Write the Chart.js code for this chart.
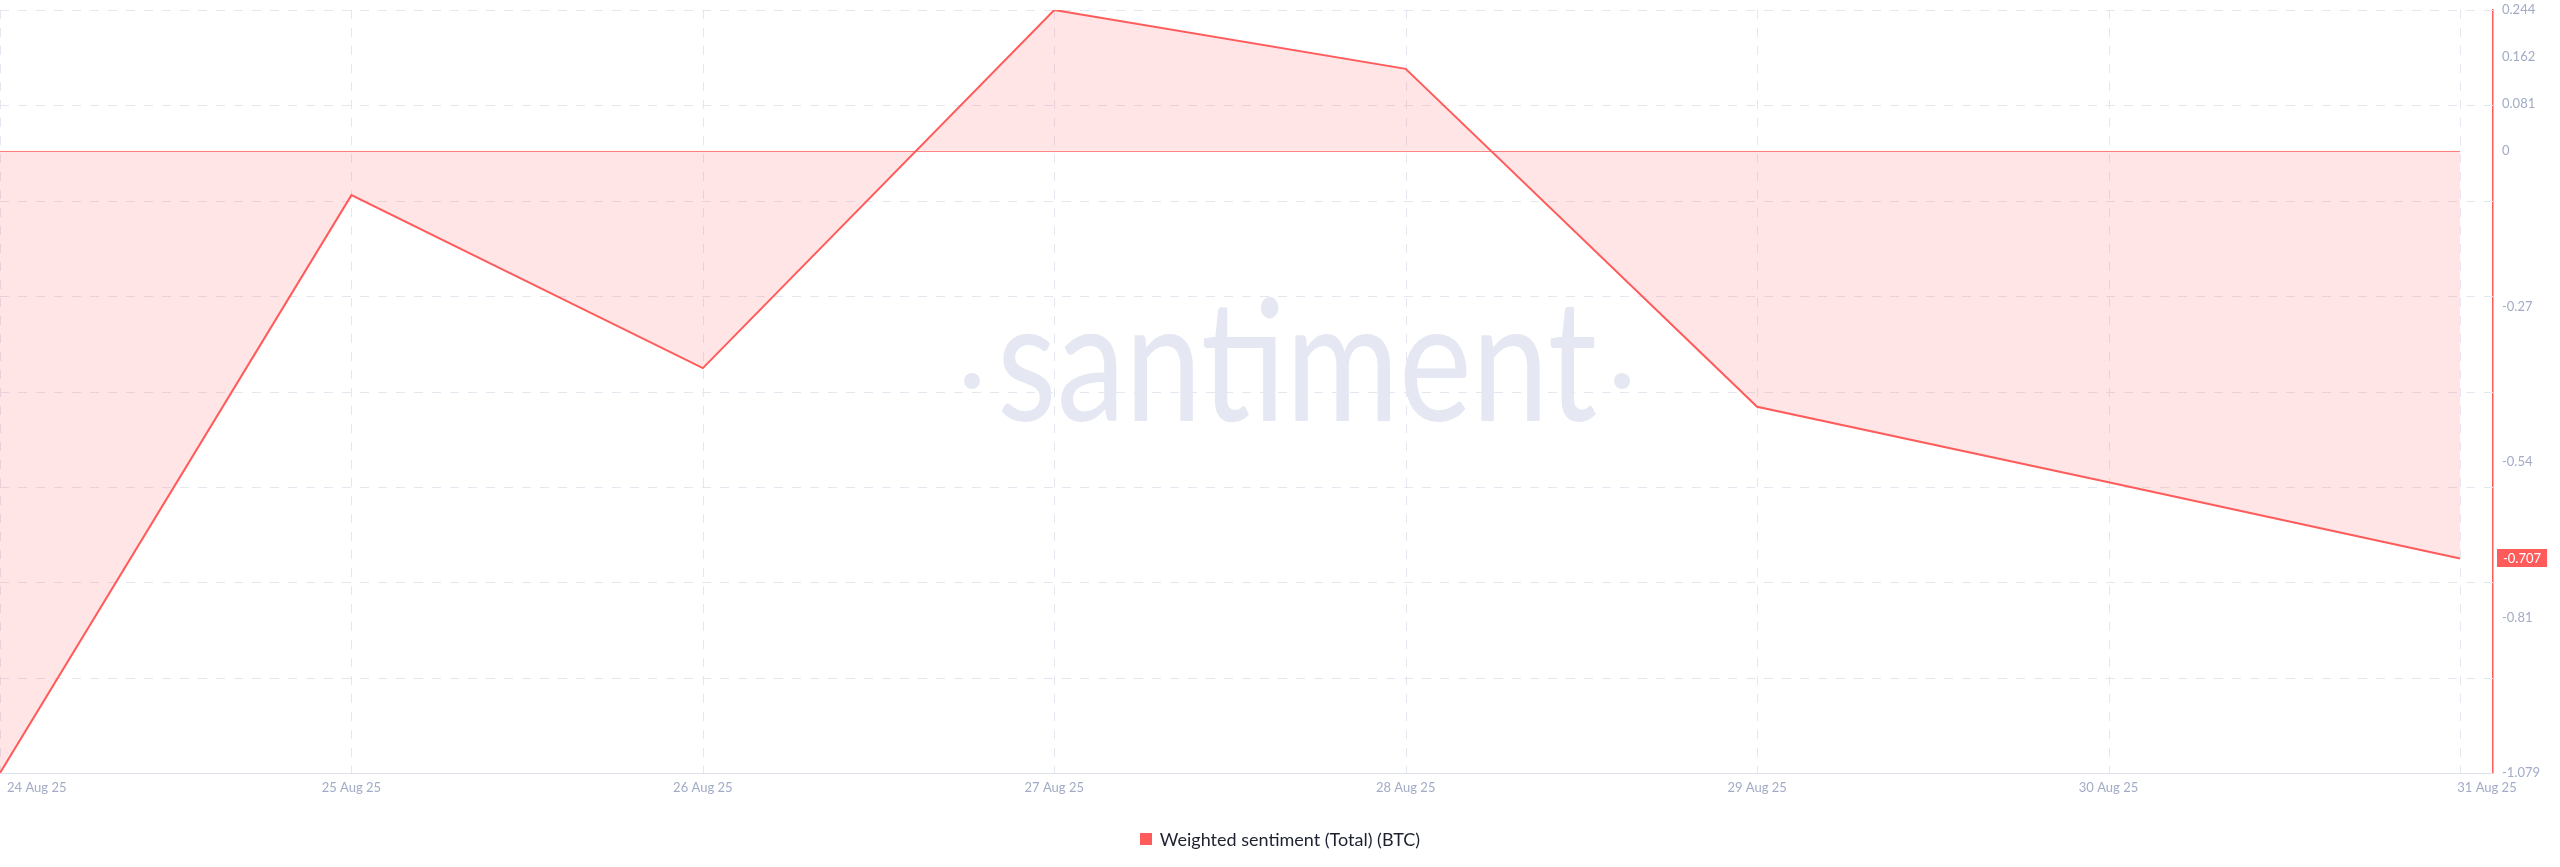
<!DOCTYPE html>
<html>
<head>
<meta charset="utf-8">
<script src="https://cdn.jsdelivr.net/npm/chart.js@4.4.1/dist/chart.umd.min.js"></script>
<style>
  html, body { margin: 0; padding: 0; background: #ffffff; }
  #wrap { width: 2560px; height: 867px; position: relative; }
  canvas { display: block; }
</style>
</head>
<body>
<div id="wrap"><canvas id="c" width="2560" height="867"></canvas></div>
<script>
// ---- data ----
const categories = ['24 Aug 25', '25 Aug 25', '26 Aug 25', '27 Aug 25', '28 Aug 25', '29 Aug 25', '30 Aug 25', '31 Aug 25'];
const sentiment = [-1.079, -0.077, -0.377, 0.244, 0.142, -0.444, -0.575, -0.707];
const yTickValues = [0.244, 0.162, 0.081, 0, -0.27, -0.54, -0.81, -1.079];
const yTickLabels = ['0.244', '0.162', '0.081', '0', '-0.27', '-0.54', '-0.81', '-1.079'];
const seriesName = 'Weighted sentiment (Total) (BTC)';

const RED = '#ff5b5b';
const TICK_COLOR = '#a2abc6';
const GRID_COLOR = '#e4e7f0';
const FONT = 'Lato, "Open Sans", sans-serif';

const decor = {
  id: 'decor',
  beforeDatasetsDraw(chart) {
    const ctx = chart.ctx, a = chart.chartArea, xs = chart.scales.x, ys = chart.scales.y;
    ctx.save();
    // watermark
    ctx.fillStyle = '#e5e8f2';
    ctx.font = '400 168px ' + FONT;
    ctx.textAlign = 'center';
    ctx.textBaseline = 'alphabetic';
    const ww = ctx.measureText('santiment').width;
    const sx = 600 / ww;
    ctx.save();
    ctx.translate(1297, 421);
    ctx.scale(sx, 1);
    ctx.fillText('santiment', 0, 0);
    ctx.restore();
    ctx.beginPath(); ctx.arc(972, 381, 8, 0, Math.PI * 2); ctx.fill();
    ctx.beginPath(); ctx.arc(1622, 381, 8, 0, Math.PI * 2); ctx.fill();
    // grid
    ctx.strokeStyle = GRID_COLOR;
    ctx.lineWidth = 1;
    ctx.setLineDash([9, 9]);
    for (let i = 0; i < 8; i++) {
      const y = Math.round(a.top + i * (a.bottom - a.top) / 8) + 0.5;
      ctx.beginPath(); ctx.moveTo(a.left, y); ctx.lineTo(a.right, y); ctx.stroke();
    }
    categories.forEach((c, i) => {
      const x = Math.round(xs.getPixelForValue(i)) + 0.5;
      ctx.beginPath(); ctx.moveTo(x, a.top); ctx.lineTo(x, a.bottom); ctx.stroke();
    });
    ctx.setLineDash([]);
    // bottom axis line
    ctx.strokeStyle = '#dde1eb';
    ctx.beginPath(); ctx.moveTo(a.left, a.bottom + 0.5); ctx.lineTo(a.right, a.bottom + 0.5); ctx.stroke();
    // zero line
    const y0 = Math.round(ys.getPixelForValue(0)) + 0.5;
    ctx.strokeStyle = 'rgba(255,91,91,0.75)';
    ctx.lineWidth = 1.2;
    ctx.beginPath();
    ctx.moveTo(xs.getPixelForValue(0), y0);
    ctx.lineTo(xs.getPixelForValue(categories.length - 1), y0);
    ctx.stroke();
    ctx.restore();
  },
  afterDraw(chart) {
    const ctx = chart.ctx, a = chart.chartArea, xs = chart.scales.x, ys = chart.scales.y;
    ctx.save();
    // x labels
    ctx.font = '13px ' + FONT;
    ctx.fillStyle = TICK_COLOR;
    ctx.textBaseline = 'middle';
    const ly = a.bottom + 15;
    categories.forEach((c, i) => {
      const x = xs.getPixelForValue(i);
      if (i === 0) { ctx.textAlign = 'left'; ctx.fillText(c, x + 7, ly); }
      else if (i === categories.length - 1) { ctx.textAlign = 'center'; ctx.fillText(c, x + 27, ly); }
      else { ctx.textAlign = 'center'; ctx.fillText(c, x, ly); }
    });
    // last value badge
    const last = sentiment[sentiment.length - 1];
    const by = ys.getPixelForValue(last);
    const txt = String(last);
    const tw = ctx.measureText(txt).width;
    ctx.fillStyle = RED;
    ctx.fillRect(a.right + 4, Math.round(by - 9), tw + 12, 18);
    ctx.fillStyle = '#ffffff';
    ctx.textAlign = 'left';
    ctx.fillText(txt, a.right + 10, by + 0.5);
    // legend
    ctx.font = '18px ' + FONT;
    const lw = ctx.measureText(seriesName).width;
    const total = 12 + 8 + lw;
    const lx = 1280 - total / 2;
    const legY = 839;
    ctx.fillStyle = RED;
    ctx.fillRect(Math.round(lx), legY - 6, 12, 12);
    ctx.fillStyle = '#1d2130';
    ctx.textAlign = 'left';
    ctx.fillText(seriesName, lx + 20, legY + 1);
    ctx.restore();
  }
};

function build() {
  new Chart(document.getElementById('c'), {
    type: 'line',
    data: {
      datasets: [{
        label: seriesName,
        data: sentiment.map((v, i) => ({ x: i, y: v })),
        borderColor: RED,
        borderWidth: 2,
        pointRadius: 0,
        tension: 0,
        fill: { target: 'origin', above: 'rgba(255,91,91,0.16)', below: 'rgba(255,91,91,0.16)' }
      }]
    },
    options: {
      responsive: false,
      animation: false,
      devicePixelRatio: 1,
      layout: { padding: { top: 10, left: 0, right: 0, bottom: 0 } },
      plugins: { legend: { display: false }, tooltip: { enabled: false } },
      scales: {
        x: {
          type: 'linear',
          min: 0,
          max: 7.094,
          grid: { display: false, drawTicks: false },
          border: { display: false },
          ticks: { display: false },
          afterBuildTicks(s) { s.ticks = categories.map((c, i) => ({ value: i })); },
          afterFit(s) { s.height = 94; s.paddingLeft = 0; s.paddingRight = 0; }
        },
        y: {
          type: 'linear',
          position: 'right',
          min: -1.079,
          max: 0.244,
          grid: { display: false, drawTicks: false },
          border: { display: true, color: RED, width: 1.5 },
          afterBuildTicks(s) { s.ticks = yTickValues.map(v => ({ value: v })); },
          ticks: {
            color: TICK_COLOR,
            font: { family: FONT, size: 13 },
            padding: 9,
            callback(v) { const i = yTickValues.indexOf(v); return i >= 0 ? yTickLabels[i] : ''; }
          },
          afterFit(s) { s.width = 67; s.paddingTop = 0; s.paddingBottom = 0; }
        }
      }
    },
    plugins: [decor]
  });
}

Promise.all([
  document.fonts.load('13px Lato'),
  document.fonts.load('18px Lato'),
  document.fonts.load('400 168px Lato')
]).then(build, build);
</script>
</body>
</html>
